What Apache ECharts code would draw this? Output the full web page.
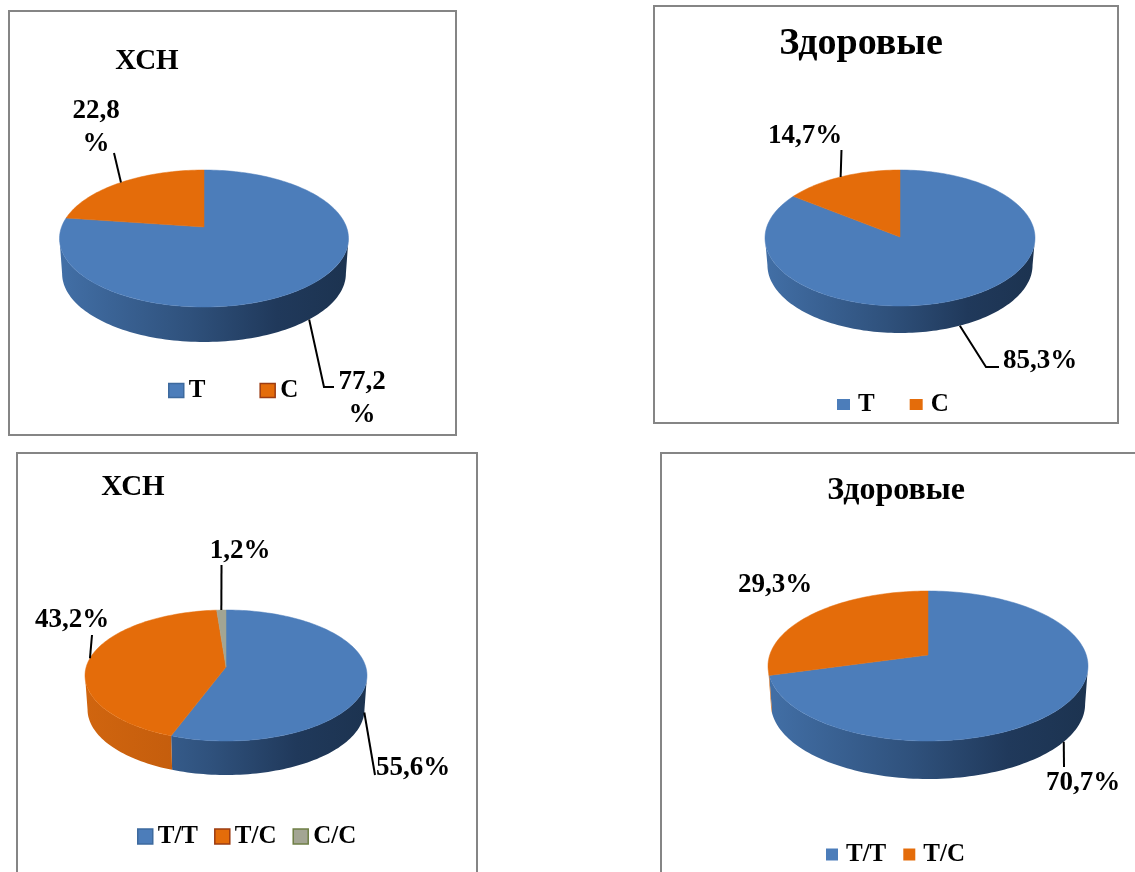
<!DOCTYPE html>
<html>
<head>
<meta charset="utf-8">
<style>html,body{margin:0;padding:0;background:#fff}#chart{width:1135px;height:872px}</style>
<script src="https://cdn.jsdelivr.net/npm/echarts@6/dist/echarts.min.js"></script>
</head>
<body>
<div id="chart"></div>
<script>
// Allele and genotype shares, percent
const alleleNames = ['T', 'C'];
const genotypeNames = ['T/T', 'T/C', 'C/C'];
const patientAlleles = [77.2, 22.8];
const healthyAlleles = [85.3, 14.7];
const patientGenotypes = [55.6, 43.2, 1.2];
const healthyGenotypes = [70.7, 29.3];
const patientTitle = 'ХСН';
const healthyTitle = 'Здоровые';

const SERIF = '"Liberation Serif", "Times New Roman", serif';

// Slice appearance by category
const blueWall = ['#426fa6', '#2f517c', '#20395b', '#1c3350'];
const orangeWall = ['#d0650f', '#c05a0c', '#a94d08', '#96440a'];
const looks = {
  'T':   { top: '#4c7dba', wall: blueWall },
  'C':   { top: '#e46c0a', wall: orangeWall },
  'T/T': { top: '#4c7dba', wall: blueWall },
  'T/C': { top: '#e46c0a', wall: orangeWall },
  'C/C': { top: '#a3a593', wall: ['#a3a593', '#8c8e7e', '#77796a', '#6c6e60'] }
};

// One tilted pie: apex on screen, rim extents, wall depth, leader routes and label anchors per slice
const pies = [
  {
    names: alleleNames, values: patientAlleles,
    apexX: 204, apexY: 227, top: 170, bottom: 307, left: 60, right: 349, depth: 35,
    labels: [
      { route: [[324, 387], [334, 387]], at: [362, 399], wrap: true },
      { route: [[114, 153]], at: [96, 128], wrap: true }
    ]
  },
  {
    names: alleleNames, values: healthyAlleles,
    apexX: 900, apexY: 237, top: 170, bottom: 306, left: 765, right: 1035, depth: 27,
    labels: [
      { route: [[986, 367], [999, 367]], at: [1040, 361] },
      { route: [[841.5, 150]], at: [805, 136] }
    ]
  },
  {
    names: genotypeNames, values: patientGenotypes,
    apexX: 226, apexY: 667, top: 610, bottom: 741, left: 85, right: 367, depth: 34,
    labels: [
      { route: [[375, 775]], at: [413, 768] },
      { route: [[92, 635]], at: [72, 620] },
      { route: [[221.5, 565]], at: [240, 551] }
    ]
  },
  {
    names: genotypeNames.slice(0, 2), values: healthyGenotypes,
    apexX: 928, apexY: 655, top: 591, bottom: 741, left: 768, right: 1088, depth: 38,
    labels: [
      { route: [[1064, 767]], at: [1083, 783] },
      { at: [775, 585] }
    ]
  }
];

// Perspective projection of a unit circle lying flat; angle runs clockwise from the top
function projector(p) {
  const up = p.apexY - p.top, down = p.bottom - p.apexY;
  const k = (down - up) / (down + up);
  const g = up * (1 + k);
  const f = (p.right - p.left) / 2 * Math.sqrt(1 - k * k);
  const rim = (deg) => {
    const a = deg * Math.PI / 180, u = Math.sin(a), v = Math.cos(a), w = 1 + k * v;
    return [p.apexX + f * u / w, p.apexY - g * v / w];
  };
  const lower = (pt) => [p.apexX + (pt[0] - p.apexX) * 0.982, pt[1] + p.depth];
  const tangent = Math.acos(-k) * 180 / Math.PI;
  return { rim, lower, frontFrom: tangent, frontTo: 360 - tangent };
}

function arc(rim, from, to) {
  const pts = [], n = Math.max(2, Math.ceil((to - from) / 1.5));
  for (let i = 0; i <= n; i++) pts.push(rim(from + (to - from) * i / n));
  return pts;
}

function wrapLabel(value, wrap) {
  const num = String(value).replace('.', ',');
  return wrap ? num + '\n%' : num + '%';
}

// Each slice is its own series so the legend can list it by name
function sliceSeries(pie, index) {
  const geo = projector(pie);
  const name = pie.names[index];
  const before = pie.values.slice(0, index).reduce((a, b) => a + b, 0);
  const look = looks[name];
  const cfg = pie.labels[index];
  return {
    type: 'custom',
    name,
    coordinateSystem: 'none',
    silent: true,
    animation: false,
    itemStyle: { color: look.top },
    data: [[pie.values[index], before]],
    renderItem(params, api) {
      const start = api.value(1) * 3.6;
      const end = (api.value(1) + api.value(0)) * 3.6;
      const children = [];
      const wFrom = Math.max(start, geo.frontFrom), wTo = Math.min(end, geo.frontTo);
      if (wTo > wFrom) {
        const upper = arc(geo.rim, wFrom, wTo);
        const under = upper.map(geo.lower).reverse();
        children.push({
          type: 'polygon',
          shape: { points: upper.concat(under) },
          style: {
            fill: {
              type: 'linear', global: true,
              x: pie.left, y: 0, x2: pie.right, y2: 0,
              colorStops: [
                { offset: 0, color: look.wall[0] },
                { offset: 0.45, color: look.wall[1] },
                { offset: 0.75, color: look.wall[2] },
                { offset: 1, color: look.wall[3] }
              ]
            }
          }
        });
      }
      const face = [[pie.apexX, pie.apexY]].concat(arc(geo.rim, start, end));
      children.push({
        type: 'polygon',
        shape: { points: face },
        style: { fill: look.top, stroke: look.top, lineWidth: 0.5 }
      });
      if (cfg.route) {
        const mid = (start + end) / 2;
        let origin = geo.rim(mid);
        if (mid > geo.frontFrom && mid < geo.frontTo) origin = geo.lower(origin);
        children.push({
          type: 'polyline',
          z2: 10,
          shape: { points: [origin].concat(cfg.route) },
          style: { fill: 'none', stroke: '#000', lineWidth: 2 }
        });
      }
      children.push({
        type: 'text',
        z2: 11,
        style: {
          text: wrapLabel(api.value(0), cfg.wrap),
          x: cfg.at[0], y: cfg.at[1],
          align: 'center', verticalAlign: 'middle',
          font: 'bold 27px ' + SERIF, lineHeight: 33, fill: '#000'
        }
      });
      return { type: 'group', children };
    }
  };
}

const series = [];
pies.forEach((pie) => pie.values.forEach((_, i) => series.push(sliceSeries(pie, i))));

// Panel frames
const frames = [
  [9, 11, 447, 424],
  [654, 6, 464, 417],
  [17, 453, 460, 440],
  [661, 453, 500, 440]
].map(([x, y, width, height]) => ({
  type: 'rect',
  shape: { x, y, width, height },
  style: { fill: 'none', stroke: '#858585', lineWidth: 2 },
  silent: true
}));

const titleOf = (text, left, top, size) => ({
  text, left, top,
  textAlign: 'center', textVerticalAlign: 'middle',
  textStyle: { fontFamily: SERIF, fontWeight: 'bold', fontSize: size, color: '#000' }
});

const legendOf = (names, left, top, w, h, gap, size, outlines, pad) => ({
  left, top, itemWidth: w, itemHeight: h, itemGap: gap,
  orient: 'horizontal', selectedMode: false, padding: 0,
  icon: 'rect',
  textStyle: { fontFamily: SERIF, fontWeight: 'bold', fontSize: size, color: '#000', padding: [0, 0, 0, pad || 0] },
  data: names.map((name, i) => ({
    name,
    itemStyle: outlines ? { borderColor: outlines[i], borderWidth: 1.5 } : { borderWidth: 0 }
  }))
});

echarts.init(document.getElementById('chart'), null, { renderer: 'canvas' }).setOption({
  backgroundColor: '#ffffff',
  animation: false,
  title: [
    titleOf(patientTitle, 142, 57, 29),
    titleOf(healthyTitle, 856, 39, 38),
    titleOf(patientTitle, 128, 483, 29),
    titleOf(healthyTitle, 891, 486, 32)
  ],
  legend: [
    legendOf(alleleNames, 168, 378, 15, 14, 54, 25, ['#3d6a9e', '#9c3c12']),
    legendOf(alleleNames, 837, 392, 13, 11, 35, 25, null, 3),
    legendOf(genotypeNames, 137, 824, 15, 15, 16, 25, ['#3d6a9e', '#9c3c12', '#6f7f45']),
    legendOf(genotypeNames.slice(0, 2), 826, 842, 12, 12, 17, 25, null, 3)
  ],
  graphic: { elements: frames },
  series
});
</script>
</body>
</html>
